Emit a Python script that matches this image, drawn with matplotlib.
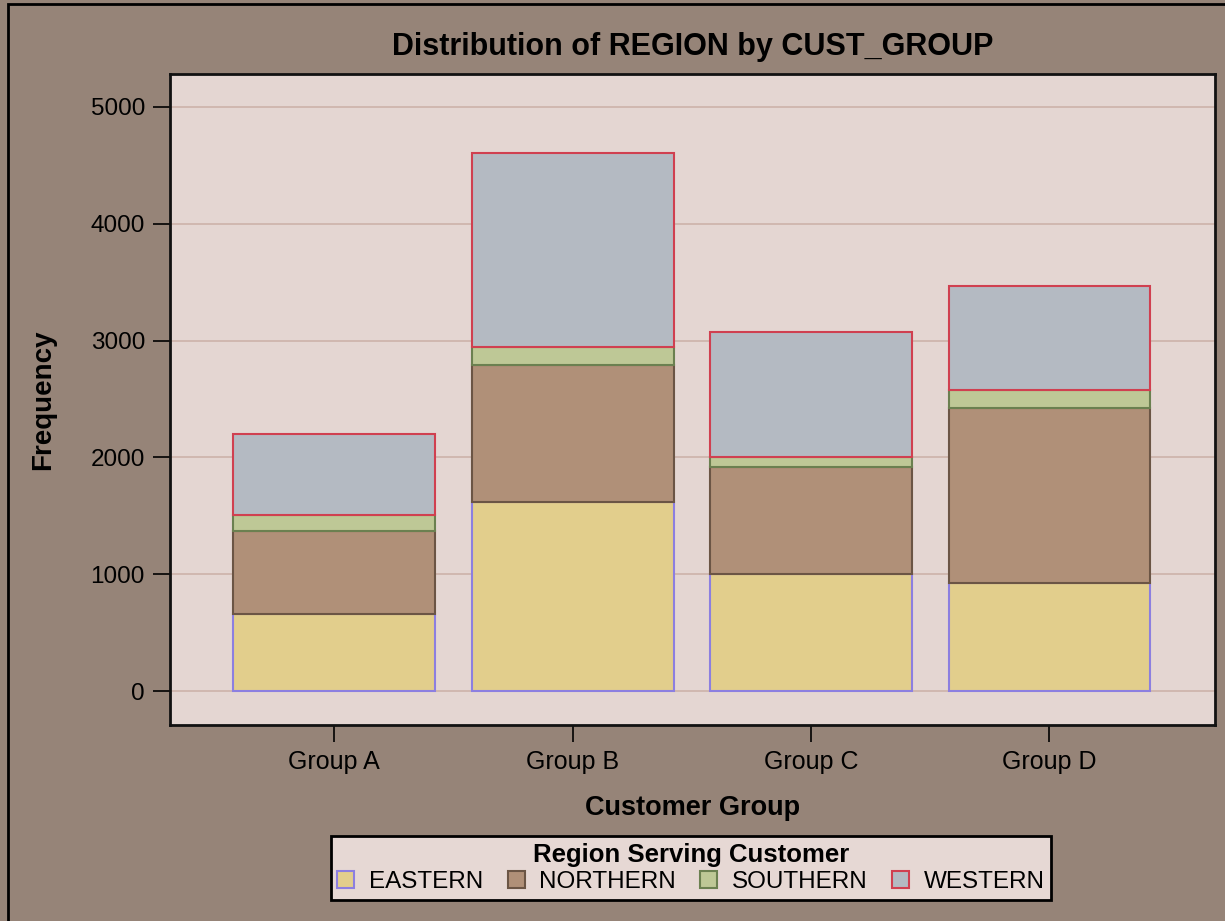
import matplotlib
matplotlib.use('Agg')
import matplotlib.pyplot as plt
from matplotlib.patches import Rectangle, Patch

plt.rcParams['font.family'] = ['Liberation Sans', 'DejaVu Sans']

groups = ['Group A', 'Group B', 'Group C', 'Group D']
regions = ['EASTERN', 'NORTHERN', 'SOUTHERN', 'WESTERN']
eastern = [658, 1615, 1000, 923]
northern = [710, 1180, 915, 1496]
southern = [136, 154, 85, 162]
western = [693, 1658, 1077, 889]

fills = ['#E2CE8C', '#B09078', '#BEC896', '#B4BAC2']
edges = ['#8C7FE0', '#6B5545', '#6B8050', '#D04050']

bg = '#968478'
fig = plt.figure(figsize=(12.25, 9.21), dpi=100, facecolor=bg)
ax = fig.add_axes([170 / 1225, 1 - 725 / 921, 1045 / 1225, 651 / 921])
ax.set_facecolor('#E4D6D2')

x = list(range(len(groups)))
bottom = [0] * len(groups)
for vals, fc, ec in zip([eastern, northern, southern, western], fills, edges):
    ax.bar(x, vals, bottom=bottom, width=0.847, color=fc, edgecolor=ec,
           linewidth=1.5, zorder=3)
    bottom = [b + v for b, v in zip(bottom, vals)]

ax.set_xlim(-0.688, 3.694)
ax.set_ylim(-290, 5282)
ax.set_yticks([0, 1000, 2000, 3000, 4000, 5000])
ax.set_xticks(x)
ax.set_xticklabels(groups)
ax.yaxis.grid(True, color='#CDB2AA', linewidth=1.2, zorder=0)
ax.tick_params(axis='y', labelsize=17.5, length=12, width=1.2, color='black', pad=6)
ax.tick_params(axis='x', labelsize=18, length=12, width=1.2, color='black', pad=6)
for s in ax.spines.values():
    s.set_linewidth(2)
    s.set_color('#111111')

ax.set_title('Distribution of REGION by CUST_GROUP', fontsize=22, fontweight='bold', pad=14)
ax.set_ylabel('Frequency', fontsize=20, fontweight='bold', labelpad=25)
ax.set_xlabel('Customer Group', fontsize=19.5, fontweight='bold', labelpad=15)

handles = [Patch(facecolor=fc, edgecolor=ec, linewidth=1.5) for fc, ec in zip(fills, edges)]
leg = fig.legend(handles, regions, loc='center', bbox_to_anchor=(691 / 1225, 1 - 868 / 921),
                 ncol=4, fontsize=17.5, title='Region Serving Customer',
                 title_fontproperties={'weight': 'bold', 'size': 18.5},
                 frameon=True, fancybox=False, handlelength=0.7, handleheight=0.7,
                 handletextpad=0.6, columnspacing=1.0, borderpad=0.25, labelspacing=0.2)
leg.get_frame().set_facecolor('#E6D8D4')
leg.get_frame().set_edgecolor('black')
leg.get_frame().set_linewidth(2)
leg.get_frame().set_alpha(1)

border = Rectangle((8 / 1225, -0.1), 1.2, 1.1 - 4 / 921, transform=fig.transFigure,
                   fill=False, edgecolor='black', linewidth=2, clip_on=False)
fig.patches.append(border)

fig.savefig('out.png', dpi=100, facecolor=bg)
